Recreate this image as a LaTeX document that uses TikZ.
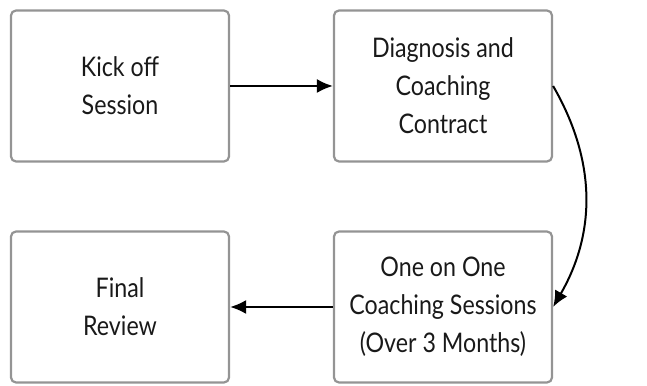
\documentclass[tikz,border=0pt]{standalone}
\usepackage{fontspec}
\setmainfont[FakeStretch=0.86]{Lato}
\usetikzlibrary{arrows.meta}

\begin{document}
\begin{tikzpicture}[x=1pt,y=1pt,
    stage/.style={shape=rectangle,rounded corners=5pt,draw=black!42,line width=2.2pt,
        minimum width=218pt,minimum height=151pt,inner sep=2pt,align=center,
        font=\fontsize{27}{38}\selectfont,text=black!90},
    flow/.style={line width=2pt,-{Latex[length=16pt,width=14pt]}}]
        \useasboundingbox (0,0) rectangle (647,385);
        \node[stage] (K) at (120,299) {Kick off\\Session};
        \node[stage] (D) at (443,299) {Diagnosis and\\Coaching\\Contract};
        \node[stage] (O) at (443,78) {One on One\\Coaching Sessions\\(Over 3 Months)};
        \node[stage] (F) at (120,78) {Final\\Review};

        \path [flow](K) edge (D);
        \path [flow](O) edge (F);
        \draw [flow,bend left=30](D.east) to (O.east);
    \end{tikzpicture}
\end{document}
